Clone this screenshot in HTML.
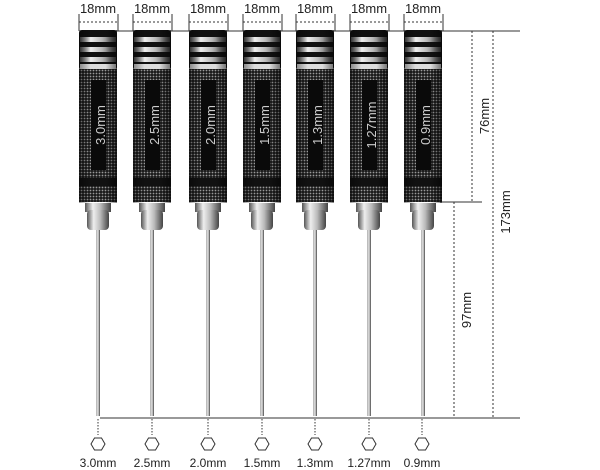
<!DOCTYPE html>
<html><head><meta charset="utf-8"><style>
html,body{margin:0;padding:0;background:#fff;}
svg{display:block;font-family:"Liberation Sans",sans-serif;}
</style></head><body>
<svg width="600" height="470" viewBox="0 0 600 470" xmlns="http://www.w3.org/2000/svg">
<defs>
<pattern id="kn" width="3" height="3" patternUnits="userSpaceOnUse">
<rect width="3" height="3" fill="#1a1a1a"/><circle cx="1.5" cy="1.5" r="0.9" fill="#9a9a9a"/>
</pattern>
<linearGradient id="sil" x1="0" x2="1">
<stop offset="0" stop-color="#555"/><stop offset="0.3" stop-color="#eee"/><stop offset="0.6" stop-color="#bbb"/><stop offset="1" stop-color="#444"/>
</linearGradient>
<linearGradient id="shade" x1="0" x2="1">
<stop offset="0" stop-color="#000" stop-opacity="0.4"/><stop offset="0.3" stop-color="#000" stop-opacity="0"/><stop offset="0.7" stop-color="#000" stop-opacity="0"/><stop offset="1" stop-color="#000" stop-opacity="0.5"/>
</linearGradient>
<g id="sd">
<rect x="-1.5" y="226" width="3.5" height="190" fill="url(#sil)"/>
<rect x="-13" y="203" width="26" height="9" fill="url(#sil)"/>
<rect x="-11" y="210" width="22" height="20" rx="4" fill="url(#sil)"/>
<rect x="-19" y="30" width="38" height="40" rx="3" fill="#111"/>
<rect x="-18" y="37" width="36" height="5" fill="url(#sil)"/>
<rect x="-18" y="47" width="36" height="5" fill="url(#sil)"/>
<rect x="-18" y="57" width="36" height="5" fill="url(#sil)"/>
<rect x="-18" y="64" width="36" height="5" fill="#ddd"/>
<rect x="-19" y="69" width="38" height="110" fill="url(#kn)"/>
<rect x="-19" y="178" width="38" height="8" fill="#111"/>
<rect x="-19" y="186" width="38" height="16" fill="url(#kn)"/>
<rect x="-19" y="30" width="38" height="173" fill="url(#shade)"/>
<rect x="-7" y="80" width="15" height="90" fill="#0a0a0a"/>
</g>
</defs>
<g stroke="#333" stroke-width="1" fill="none">
<line x1="80" y1="31" x2="520" y2="31"/>
<line x1="440" y1="202" x2="482" y2="202"/>
<line x1="100" y1="418" x2="520" y2="418"/>
<g stroke-dasharray="2,2">
<line x1="472" y1="31" x2="472" y2="202"/>
<line x1="454" y1="202" x2="454" y2="418"/>
<line x1="493" y1="31" x2="493" y2="418"/>
</g>
</g>
<g>
<use href="#sd" x="98"/><use href="#sd" x="152"/><use href="#sd" x="208"/><use href="#sd" x="262"/><use href="#sd" x="315"/><use href="#sd" x="369"/><use href="#sd" x="423"/>
</g>
<g stroke="#333" stroke-width="1" fill="none">
<path d="M79 14V31M118 14V31M133 14V31M172 14V31M189 14V31M228 14V31M243 14V31M282 14V31M296 14V31M335 14V31M350 14V31M389 14V31M404 14V31M443 14V31"/>
<g stroke-dasharray="2,2">
<path d="M79 22H118M133 22H172M189 22H228M243 22H282M296 22H335M350 22H389M404 22H443"/>
</g>
</g>
<g font-size="13" fill="#222" text-anchor="middle">
<text x="98" y="13">18mm</text><text x="152" y="13">18mm</text><text x="208" y="13">18mm</text><text x="262" y="13">18mm</text><text x="315" y="13">18mm</text><text x="369" y="13">18mm</text><text x="423" y="13">18mm</text>
</g>
<g font-size="13" fill="#ccc" text-anchor="middle">
<text transform="translate(105,125) rotate(-90)">3.0mm</text>
<text transform="translate(159,125) rotate(-90)">2.5mm</text>
<text transform="translate(215,125) rotate(-90)">2.0mm</text>
<text transform="translate(269,125) rotate(-90)">1.5mm</text>
<text transform="translate(322,125) rotate(-90)">1.3mm</text>
<text transform="translate(376,125) rotate(-90)">1.27mm</text>
<text transform="translate(430,125) rotate(-90)">0.9mm</text>
</g>
<g font-size="13" fill="#222" text-anchor="middle">
<text transform="translate(489,116) rotate(-90)">76mm</text>
<text transform="translate(471,310) rotate(-90)">97mm</text>
<text transform="translate(510,212) rotate(-90)">173mm</text>
</g>
<g stroke="#333" stroke-width="1" fill="none">
<g stroke-dasharray="1.5,1.5">
<path d="M98 419V435M152 419V435M208 419V435M262 419V435M315 419V435M369 419V435M422 419V435"/>
</g>
<polygon points="-3.5,-6 3.5,-6 7,0 3.5,6 -3.5,6 -7,0" transform="translate(98,444)"/>
<polygon points="-3.5,-6 3.5,-6 7,0 3.5,6 -3.5,6 -7,0" transform="translate(152,444)"/>
<polygon points="-3.5,-6 3.5,-6 7,0 3.5,6 -3.5,6 -7,0" transform="translate(208,444)"/>
<polygon points="-3.5,-6 3.5,-6 7,0 3.5,6 -3.5,6 -7,0" transform="translate(262,444)"/>
<polygon points="-3.5,-6 3.5,-6 7,0 3.5,6 -3.5,6 -7,0" transform="translate(315,444)"/>
<polygon points="-3.5,-6 3.5,-6 7,0 3.5,6 -3.5,6 -7,0" transform="translate(369,444)"/>
<polygon points="-3.5,-6 3.5,-6 7,0 3.5,6 -3.5,6 -7,0" transform="translate(422,444)"/>
</g>
<g font-size="12" fill="#222" text-anchor="middle">
<text x="98" y="467">3.0mm</text><text x="152" y="467">2.5mm</text><text x="208" y="467">2.0mm</text><text x="262" y="467">1.5mm</text><text x="315" y="467">1.3mm</text><text x="369" y="467">1.27mm</text><text x="422" y="467">0.9mm</text>
</g>
</svg>
</body></html>
